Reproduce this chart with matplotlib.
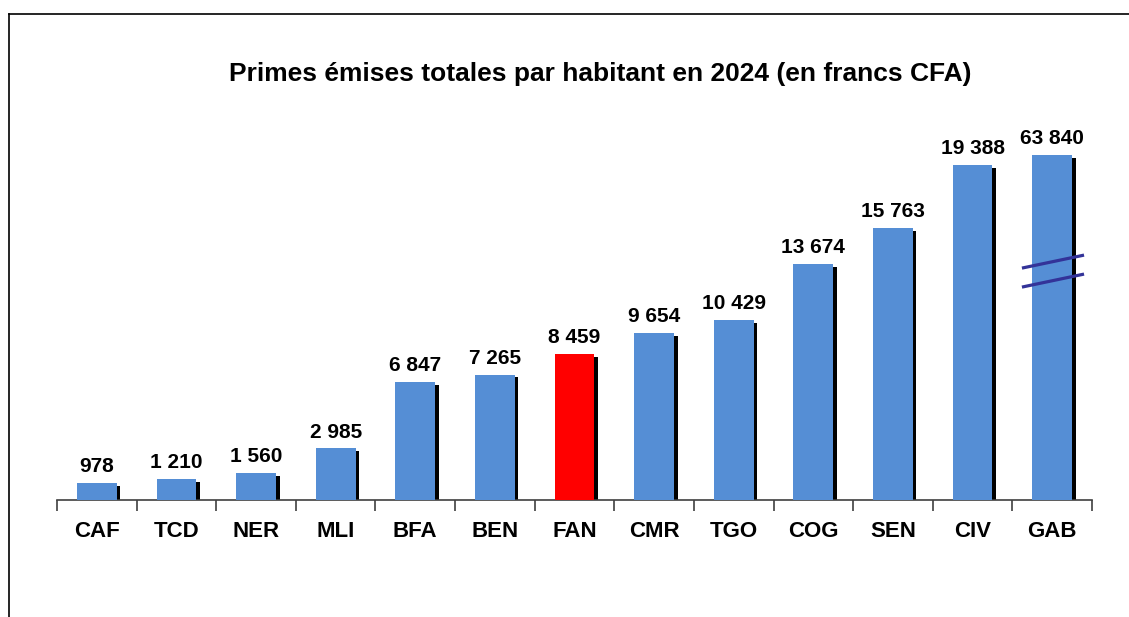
import matplotlib
matplotlib.use("Agg")
import matplotlib.pyplot as plt
from matplotlib.lines import Line2D
import numpy as np

categories = ["CAF", "TCD", "NER", "MLI", "BFA", "BEN", "FAN", "CMR", "TGO", "COG", "SEN", "CIV", "GAB"]
values = [978, 1210, 1560, 2985, 6847, 7265, 8459, 9654, 10429, 13674, 15763, 19388, 63840]
labels = ["978", "1 210", "1 560", "2 985", "6 847", "7 265", "8 459", "9 654", "10 429", "13 674", "15 763", "19 388", "63 840"]
highlight = "FAN"
display_cap = 19950  # broken-axis display height for the outlier bar

plt.rcParams['font.family'] = ['Liberation Sans', 'DejaVu Sans']

fig = plt.figure(figsize=(11.29, 6.17), dpi=100)
ax = fig.add_axes([57/1129, (617-500)/617, (1092-57)/1129, 380/617])

x = np.arange(len(categories))
shown = np.minimum(values, display_cap)
colors = ["#FF0000" if c == highlight else "#558ED5" for c in categories]

# shadows
ax.bar(x + 0.045, shown - 170, width=0.5, color="black", zorder=2)
ax.bar(x, shown, width=0.5, color=colors, zorder=3)

for xi, h, lab in zip(x, shown, labels):
    ax.text(xi, h + 400, lab, ha="center", va="bottom", fontsize=15, fontweight="bold", zorder=4)

# break marks on the capped bar
ib = int(np.argmax(values))
ax.plot([ib - 0.38, ib + 0.40], [13426, 14178], color="#333399", lw=2.3, zorder=5, solid_capstyle="butt")
ax.plot([ib - 0.38, ib + 0.40], [12326, 13079], color="#333399", lw=2.3, zorder=5, solid_capstyle="butt")

ax.set_xlim(-0.5, len(categories) - 0.5)
ax.set_ylim(0, 22000)
ax.set_yticks([])
for s in ["top", "right", "left"]:
    ax.spines[s].set_visible(False)
ax.spines["bottom"].set_color("#404040")
ax.spines["bottom"].set_linewidth(1.2)

ax.set_xticks(np.arange(len(categories) + 1) - 0.5, minor=False)
ax.set_xticklabels([])
ax.tick_params(axis="x", direction="out", length=8, width=1.2, color="#404040")
ax.set_xticks(x, minor=True)
ax.set_xticklabels(categories, minor=True, fontsize=16, fontweight="bold")
ax.tick_params(axis="x", which="minor", length=0, pad=15)

fig.text(600/1129, 1 - 74/617, "Primes émises totales par habitant en 2024 (en francs CFA)",
         ha="center", va="center", fontsize=19, fontweight="bold")

# outer frame (top and left edges visible)
fig.add_artist(Line2D([9/1129, 1], [1 - 14/617, 1 - 14/617], color="black", lw=1.2))
fig.add_artist(Line2D([9/1129, 9/1129], [0, 1 - 14/617], color="black", lw=1.2))

fig.savefig("out.png", dpi=100)
